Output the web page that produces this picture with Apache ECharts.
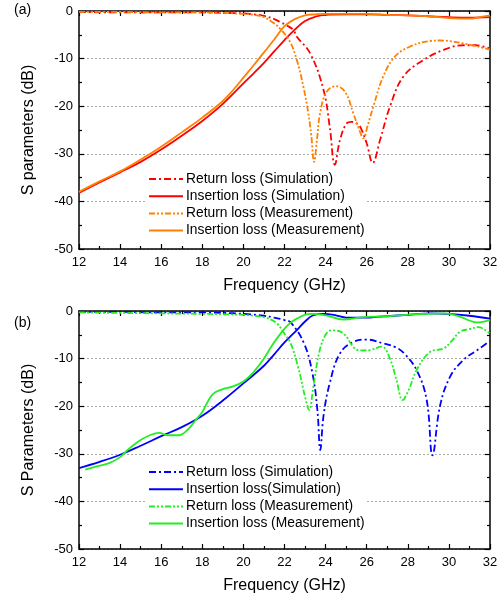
<!DOCTYPE html>
<html><head><meta charset="utf-8">
<script src="https://cdn.jsdelivr.net/npm/echarts@6/dist/echarts.min.js"></script>
<style>html,body{margin:0;padding:0;background:#fff}#c{width:503px;height:600px}</style>
</head><body><div id="c"></div>
<script>
// ---------- Panel (a) ----------
const rlSimA_f = [12,14,16,18,19,20,20.5,21,21.5,21.78,22.1,22.43,22.6,23.25,23.9,24.2,24.45,24.7,25.03,25.27,25.5,25.68,26,26.29,26.65,27.13,27.78,28.76,29.73,30.7,31.3,32];
const rlSimA_db = [-0.2,-0.3,-0.3,-0.3,-0.4,-0.5,-0.7,-1,-1.7,-2.3,-3,-4,-5.4,-8.9,-16.6,-24.3,-32.3,-27.1,-23.6,-23.3,-23.6,-24.3,-27.8,-31.9,-27.1,-20.1,-13.8,-10.3,-8.2,-7.2,-7.2,-7.9];
const ilSimA_f = [12,13,14,15,16,17,18,19,20,20.5,21,21.5,22,22.5,23,23.5,24,25,26,27,28,29,30,31,32];
const ilSimA_db = [-38.2,-36,-33.9,-31.7,-29.1,-26.2,-23.1,-19.5,-15.2,-13.1,-10.9,-8.5,-6.1,-3.9,-2.1,-1.2,-0.8,-0.7,-0.7,-0.8,-0.9,-1.1,-1.3,-1.4,-1.3];
const rlMeasA_f = [12,14,16,18,19,20,20.5,20.97,21.4,21.78,22.27,22.6,22.92,23.16,23.3,23.44,23.58,23.73,24.05,24.5,24.95,25.35,25.6,25.84,26.05,26.32,26.8,27.37,28.1,29.08,29.57,30.7,32];
const rlMeasA_db = [-0.2,-0.2,-0.3,-0.3,-0.4,-0.6,-0.8,-1.25,-2.3,-3.7,-6.5,-10.3,-15.9,-21.5,-26,-31.7,-27,-21.5,-17,-15.8,-17,-21.5,-24.5,-26.7,-24,-20.1,-13.8,-9.6,-7.5,-6.3,-6.2,-6.8,-8.1];
const ilMeasA_f = [12,13,14,15,16,17,18,19,19.5,20,20.5,21,21.5,22,22.5,23,23.5,24,25,26,27,28,29,30,30.5,31,31.5,32];
const ilMeasA_db = [-38,-35.8,-33.7,-31.2,-28.5,-25.5,-22.4,-18.9,-16.6,-14,-11.4,-8.7,-6,-3.2,-1.7,-0.9,-0.7,-0.6,-0.6,-0.6,-0.8,-0.9,-1.1,-1.5,-1.6,-1.6,-1.3,-0.9];

// ---------- Panel (b) ----------
const rlSimB_f = [12,14,16,18,19,20,21,21.5,22,22.3,22.95,23.36,23.6,23.74,23.9,24.2,24.7,25.35,26,26.8,27.4,27.8,28.43,28.92,29.2,29.57,30.06,30.7,31.35,32];
const rlSimB_db = [-0.2,-0.2,-0.3,-0.3,-0.4,-0.6,-1,-1.4,-1.9,-2.4,-6.8,-13.1,-20.8,-29.2,-22,-15.2,-8.9,-6.5,-6,-6.8,-7.6,-8.8,-12.4,-18.7,-30.3,-19.9,-13.8,-10.3,-8.3,-6.3];
const ilSimB_f = [12,13,14,15,16,17,18,19,20,21,21.5,22,22.6,23,23.4,23.9,24.5,25,26,26.6,27,28,29.1,30,31,32];
const ilSimB_db = [-33,-31.7,-30.2,-28.3,-26.3,-24.4,-22,-18.8,-15.2,-11.5,-9.1,-6.6,-4,-2.2,-0.9,-0.6,-0.9,-1.4,-1.4,-1.2,-1.1,-0.8,-0.5,-0.6,-1,-1.6];
const rlMeasB_f = [12,14,16,18,19,20,20.5,21,21.6,22,22.3,22.66,23,23.2,23.4,23.7,24,24.3,24.86,25.43,25.8,26.16,26.73,27.13,27.45,27.75,28.05,28.43,29.08,29.73,30.1,30.53,31,31.43,32];
const rlMeasB_db = [-0.3,-0.4,-0.5,-0.6,-0.7,-0.8,-1,-1.3,-2.5,-4.8,-6.8,-11.7,-18,-20.8,-16,-8.5,-5,-4.05,-4.7,-7.9,-8.3,-8.2,-7.5,-10,-14.5,-18.7,-16.5,-12.4,-8.6,-7.9,-6.5,-4.4,-3.8,-3.4,-4.8];
const ilMeasB_f = [12.3,13,13.5,14,14.27,14.5,15,15.5,15.9,16.3,16.87,17.3,17.7,18,18.5,19,19.46,20,20.5,21,21.4,21.8,22.2,22.6,23.25,24,24.86,25.8,27,28.2,29,29.8,30.6,31,31.35,32];
const ilMeasB_db = [-33.3,-32.5,-31.9,-30.7,-29.6,-28.7,-27.1,-26,-25.6,-26.1,-26.1,-24.9,-22.8,-21.2,-17.5,-16.4,-15.9,-14.8,-12.8,-10,-7.2,-4.8,-2.8,-1.6,-0.6,-0.9,-1.8,-1.3,-1.1,-0.7,-0.6,-0.5,-1.3,-2,-2.4,-1.9];

// ---------- Labels ----------
const namesA = ['Return loss (Simulation)','Insertion loss (Simulation)','Return loss (Measurement)','Insertion loss (Measurement)'];
const ZW = '\u200B';
const namesB = ['Return loss (Simulation)'+ZW,'Insertion loss(Simulation)','Return loss (Measurement)'+ZW,'Insertion loss (Measurement)'+ZW];
const xTitle = 'Frequency (GHz)';
const yTitleA = 'S parameters (dB)';
const yTitleB = 'S Parameters (dB)';

const FONT = 'Liberation Sans, Arial, sans-serif';
const pair = (f, d) => f.map((x, i) => [x, d[i]]);

function xAxes(gi) {
  const common = {
    type: 'value', gridIndex: gi, min: 12, max: 32, interval: 2,
    axisLine: { show: true, onZero: false, lineStyle: { color: '#000', width: 1.5 } },
    axisTick: { show: true, inside: true, length: 5, lineStyle: { color: '#000', width: 1.2 } },
    minorTick: { show: true, splitNumber: 2, length: 3, lineStyle: { color: '#000', width: 1.2 } },
    splitLine: { show: false }
  };
  return [
    Object.assign({}, common, {
      position: 'bottom',
      axisLabel: { color: '#000', fontSize: 13, margin: 7, fontFamily: FONT },
      name: xTitle, nameLocation: 'middle', nameGap: 29,
      nameTextStyle: { color: '#000', fontSize: 16, fontFamily: FONT }
    }),
    Object.assign({}, common, { position: 'top', axisLabel: { show: false } })
  ];
}
function yAxes(gi, title) {
  const common = {
    type: 'value', gridIndex: gi, min: -50, max: 0, interval: 10,
    axisLine: { show: true, onZero: false, lineStyle: { color: '#000', width: 1.5 } },
    axisTick: { show: true, inside: true, length: 5, lineStyle: { color: '#000', width: 1.2 } },
    minorTick: { show: true, splitNumber: 2, length: 3, lineStyle: { color: '#000', width: 1.2 } }
  };
  return [
    Object.assign({}, common, {
      position: 'left',
      splitLine: { show: true, lineStyle: { color: '#aaa', type: [2, 2], width: 1 } },
      axisLabel: { color: '#000', fontSize: 13, margin: 6, fontFamily: FONT },
      name: title, nameLocation: 'middle', nameGap: 42,
      nameTextStyle: { color: '#000', fontSize: 16, fontFamily: FONT }
    }),
    Object.assign({}, common, { position: 'right', splitLine: { show: false }, axisLabel: { show: false } })
  ];
}
function line(name, f, d, color, dash, xi, yi, z) {
  return {
    type: 'line', name, data: pair(f, d), xAxisIndex: xi, yAxisIndex: yi,
    symbol: 'none', showSymbol: false, smooth: 0.4,
    lineStyle: { color, width: 1.8, type: dash }, itemStyle: { color }, z: z
  };
}
const DASH1 = [7, 3, 2, 3];
const DASH2 = [6, 2, 2, 2, 2, 2];

const RED = '#ff0000', ORANGE = '#ff8000', BLUE = '#0000ff', GREEN = '#22ee22';

function legend(top, names) {
  return {
    orient: 'vertical', left: 146, top: top, itemWidth: 34, itemHeight: 14, itemGap: 3.2,
    backgroundColor: '#fff', padding: [1, 2, 1, 2],
    data: names, selectedMode: false,
    itemStyle: { opacity: 0 },
    formatter: n => n.replace(ZW, ''),
    textStyle: { color: '#000', fontSize: 13.8, fontFamily: FONT, padding: [0, 0, 0, -2] }
  };
}

const chart = echarts.init(document.getElementById('c'), null, { renderer: 'canvas' });
chart.setOption({
  animation: false,
  backgroundColor: '#fff',
  grid: [
    { left: 79, top: 11, width: 411, height: 238, show: false },
    { left: 79, top: 311, width: 411, height: 238, show: false }
  ],
  xAxis: [...xAxes(0), ...xAxes(1)],
  yAxis: [...yAxes(0, yTitleA), ...yAxes(1, yTitleB)],
  legend: [legend(171, namesA), legend(464, namesB)],
  graphic: [
    { type: 'text', left: 14, top: 3, style: { text: '(a)', fontSize: 14, fontFamily: FONT, fill: '#000' } },
    { type: 'text', left: 14, top: 316, style: { text: '(b)', fontSize: 14, fontFamily: FONT, fill: '#000' } }
  ],
  series: [
    line(namesA[0], rlSimA_f, rlSimA_db, RED, DASH1, 0, 0, 3),
    line(namesA[1], ilSimA_f, ilSimA_db, RED, 'solid', 0, 0, 3),
    line(namesA[2], rlMeasA_f, rlMeasA_db, ORANGE, DASH2, 0, 0, 4),
    line(namesA[3], ilMeasA_f, ilMeasA_db, ORANGE, 'solid', 0, 0, 4),
    line(namesB[0], rlSimB_f, rlSimB_db, BLUE, DASH1, 2, 2, 3),
    line(namesB[1], ilSimB_f, ilSimB_db, BLUE, 'solid', 2, 2, 3),
    line(namesB[2], rlMeasB_f, rlMeasB_db, GREEN, DASH2, 2, 2, 4),
    line(namesB[3], ilMeasB_f, ilMeasB_db, GREEN, 'solid', 2, 2, 4)
  ]
});
</script></body></html>
